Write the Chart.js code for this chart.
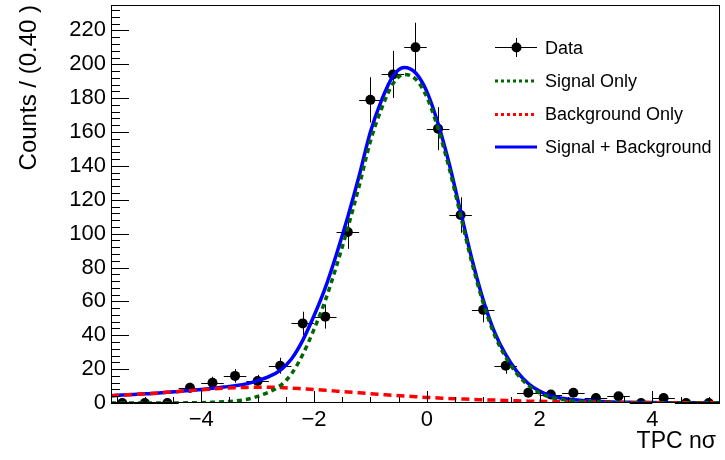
<!DOCTYPE html>
<html>
<head>
<meta charset="utf-8">
<script src="https://cdn.jsdelivr.net/npm/chart.js@4.4.1/dist/chart.umd.min.js"></script>
<style>
  html, body { margin: 0; padding: 0; background: #fff; }
  #wrap { width: 725px; height: 460px; }
</style>
</head>
<body>
<div id="wrap"><canvas id="fitChart" width="725" height="460"></canvas></div>
<script>
// histogram bins (width 0.40)
const binCenters = [-5.4, -5.0, -4.6, -4.2, -3.8, -3.4, -3.0, -2.6, -2.2, -1.8, -1.4, -1.0, -0.6, -0.2,
                    0.2, 0.6, 1.0, 1.4, 1.8, 2.2, 2.6, 3.0, 3.4, 3.8, 4.2, 4.6, 5.0];
const counts = [0, 0, 0, 9, 12, 16, 13, 22, 47, 51, 101, 179, 194, 210,
                162, 111, 55, 22, 6, 5, 6, 3, 4, 0, 3, 0, 0];
const countErrors = [0, 0, 0, 3.0, 3.5, 4.0, 3.6, 4.7, 6.9, 7.1, 10.0, 13.4, 13.9, 14.5,
                     12.7, 10.5, 7.4, 4.7, 2.4, 2.2, 2.4, 1.7, 2.0, 0, 1.7, 0, 0];
const binHalfWidth = 0.2;

// fit curves sampled along x
const curveX = [-5.6, -5.4, -5.2, -5.0, -4.8, -4.6, -4.4, -4.2, -4.0, -3.8, -3.6, -3.4, -3.2, -3.0,
                -2.8, -2.6, -2.4, -2.2, -2.0, -1.8, -1.6, -1.4, -1.2, -1.0, -0.8, -0.6, -0.4, -0.2,
                0.0, 0.2, 0.4, 0.6, 0.8, 1.0, 1.2, 1.4, 1.6, 1.8, 2.0, 2.2, 2.4, 2.6, 2.8, 3.0,
                3.2, 3.4, 3.6, 3.8, 4.0, 4.2, 4.4, 4.6, 4.8, 5.0, 5.2];
const signalOnly = [0, 0, 0, 0, 0, 0, 0.05, 0.1, 0.2, 0.4, 0.7, 1.2, 2.1, 3.9,
                    6.5, 10.2, 17.2, 28.6, 43.5, 60.5, 81, 103.5, 128, 154.5, 174, 188.5, 194, 191.3,
                    180.7, 162, 138.3, 110.6, 82.9, 59.1, 40.3, 27.0, 17.2, 10.4, 6.0, 3.3, 2.0, 1.2, 0.8, 0.5,
                    0.3, 0.15, 0.1, 0.05, 0, 0, 0, 0, 0, 0, 0];
const backgroundOnly = [4.3, 4.7, 5.0, 5.4, 5.8, 6.3, 6.8, 7.3, 7.8, 8.3, 8.7, 9.0, 9.2, 9.3,
                        9.3, 9.1, 8.8, 8.4, 8.0, 7.5, 7.0, 6.5, 6.0, 5.5, 5.0, 4.5, 4.1, 3.7,
                        3.3, 3.0, 2.7, 2.4, 2.1, 1.9, 1.7, 1.5, 1.3, 1.1, 1.0, 0.9, 0.8, 0.7, 0.6, 0.5,
                        0.4, 0.35, 0.3, 0.25, 0.2, 0.2, 0.15, 0.1, 0.1, 0.1, 0.1];
const signalPlusBackground = [4.3, 4.7, 5.0, 5.4, 5.8, 6.3, 6.85, 7.4, 8.0, 8.7, 9.4, 10.2, 11.3, 13.2,
                              15.6, 19.3, 26.0, 37.0, 51.5, 68, 88, 110, 134, 160, 179, 193, 198.1, 195,
                              184, 165, 141, 113, 85, 61, 42, 28.5, 18.5, 11.5, 7.0, 4.2, 2.8, 1.9, 1.4, 1.0,
                              0.7, 0.5, 0.4, 0.3, 0.25, 0.2, 0.15, 0.1, 0.1, 0.1, 0.1];

const xTickValues = [-4, -2, 0, 2, 4];
const yTickValues = [0, 20, 40, 60, 80, 100, 120, 140, 160, 180, 200, 220];

const FONT = "'Liberation Sans', Arial, Helvetica, sans-serif";
const GREEN = '#006600';

function toPoints(xs, ys) {
    return xs.map(function (x, i) { return { x: x, y: ys[i] }; });
}

// no extra room for overhanging tick labels, the frame is fixed
function fixScale(s) {
    s.paddingTop = 0;
    s.paddingBottom = 0;
    s.paddingLeft = 0;
    s.paddingRight = 0;
}

// ROOT-like frame, inner ticks, error bars, titles and legend
const rootStyle = {
    id: 'rootStyle',
    beforeDatasetsDraw: function (chart) {
        const c = chart.ctx, xs = chart.scales.x, ys = chart.scales.y;
        c.save();
        c.strokeStyle = '#000';
        c.lineWidth = 1;
        binCenters.forEach(function (bc, i) {
            const px = Math.round(xs.getPixelForValue(bc)) + 0.5;
            const py = Math.round(ys.getPixelForValue(counts[i])) + 0.5;
            c.beginPath();
            c.moveTo(xs.getPixelForValue(bc - binHalfWidth), py);
            c.lineTo(xs.getPixelForValue(bc + binHalfWidth), py);
            if (countErrors[i] > 0) {
                c.moveTo(px, ys.getPixelForValue(counts[i] - countErrors[i]));
                c.lineTo(px, ys.getPixelForValue(counts[i] + countErrors[i]));
            }
            c.stroke();
        });
        c.restore();
    },
    afterDraw: function (chart) {
        const c = chart.ctx, a = chart.chartArea;
        const xs = chart.scales.x, ys = chart.scales.y;
        c.save();
        c.strokeStyle = '#000';
        c.lineWidth = 1;
        c.strokeRect(a.left + 0.5, a.top + 0.5, a.right - a.left - 1, a.bottom - a.top - 1);

        // y ticks (inside the frame)
        c.beginPath();
        for (let v = 0; v <= ys.max; v += 4) {
            const py = Math.round(ys.getPixelForValue(v)) + 0.5;
            const len = (v % 20 === 0) ? 18 : 9;
            c.moveTo(a.left, py);
            c.lineTo(a.left + len, py);
        }
        // x ticks
        for (let v = -5.5; v <= xs.max; v += 0.5) {
            const px = Math.round(xs.getPixelForValue(v)) + 0.5;
            const len = (Math.abs(v % 2) < 1e-6) ? 12 : 6;
            c.moveTo(px, a.bottom);
            c.lineTo(px, a.bottom - len);
        }
        c.stroke();

        // axis titles
        c.fillStyle = '#000';
        c.textAlign = 'right';
        c.textBaseline = 'middle';
        c.font = '23px ' + FONT;
        c.fillText('TPC n\u03c3', 716, 442);
        c.save();
        c.font = '24px ' + FONT;
        c.translate(29, 5);
        c.rotate(-Math.PI / 2);
        c.fillText('Counts / (0.40 )', 0, 0);
        c.restore();

        // legend
        const lx0 = 495, lx1 = 537, tx = 545;
        c.font = '18px ' + FONT;
        c.textAlign = 'left';
        c.textBaseline = 'middle';

        c.beginPath();
        c.moveTo(lx0, 47.5); c.lineTo(lx1, 47.5);
        c.moveTo(516.5, 38); c.lineTo(516.5, 57);
        c.stroke();
        c.beginPath();
        c.arc(516.5, 47.5, 5, 0, Math.PI * 2);
        c.fill();
        c.fillText('Data', tx, 49);

        const entries = [
            { label: 'Signal Only', color: GREEN, dash: [3, 3], y: 81 },
            { label: 'Background Only', color: '#ff0000', dash: [3, 3], y: 114.5 },
            { label: 'Signal + Background', color: '#0000ff', dash: [], y: 147 }
        ];
        entries.forEach(function (e) {
            c.save();
            c.strokeStyle = e.color;
            c.lineWidth = 3;
            c.setLineDash(e.dash);
            c.beginPath();
            c.moveTo(lx0, e.y); c.lineTo(lx1, e.y);
            c.stroke();
            c.restore();
            c.fillText(e.label, tx, e.y + 1);
        });
        c.restore();
    }
};

const ctx = document.getElementById('fitChart');
new Chart(ctx, {
    type: 'scatter',
    data: {
        datasets: [
            {
                label: 'Data',
                data: toPoints(binCenters, counts),
                showLine: false,
                pointRadius: 5,
                pointBackgroundColor: '#000',
                pointBorderColor: '#000',
                pointBorderWidth: 0,
                order: 4
            },
            {
                label: 'Signal + Background',
                data: toPoints(curveX, signalPlusBackground),
                showLine: true,
                borderColor: '#0000ff',
                borderWidth: 3.5,
                pointRadius: 0,
                cubicInterpolationMode: 'monotone',
                order: 3
            },
            {
                label: 'Background Only',
                data: toPoints(curveX, backgroundOnly),
                showLine: true,
                borderColor: '#ff0000',
                borderWidth: 3.5,
                borderDash: [8, 5],
                pointRadius: 0,
                cubicInterpolationMode: 'monotone',
                order: 2
            },
            {
                label: 'Signal Only',
                data: toPoints(curveX, signalOnly),
                showLine: true,
                borderColor: GREEN,
                borderWidth: 3.5,
                borderDash: [5, 4],
                pointRadius: 0,
                cubicInterpolationMode: 'monotone',
                order: 1
            }
        ]
    },
    options: {
        responsive: false,
        animation: false,
        layout: { padding: { top: 4, right: 3, left: 0, bottom: 0 } },
        plugins: {
            legend: { display: false },
            tooltip: { enabled: false }
        },
        scales: {
            x: {
                type: 'linear',
                min: -5.6,
                max: 5.2,
                grid: { display: false, drawTicks: false },
                border: { display: false },
                afterBuildTicks: function (s) { s.ticks = xTickValues.map(function (v) { return { value: v }; }); },
                afterFit: function (s) { s.height = 57; fixScale(s); },
                ticks: {
                    color: '#000',
                    padding: 4,
                    maxRotation: 0,
                    font: { family: FONT, size: 22 },
                    callback: function (v) { return v < 0 ? '\u2212' + Math.abs(v) : String(v); }
                }
            },
            y: {
                min: 0,
                max: 235,
                grid: { display: false, drawTicks: false },
                border: { display: false },
                afterBuildTicks: function (s) { s.ticks = yTickValues.map(function (v) { return { value: v }; }); },
                afterFit: function (s) { s.width = 111; fixScale(s); },
                ticks: {
                    color: '#000',
                    padding: 5,
                    font: { family: FONT, size: 22 }
                }
            }
        }
    },
    plugins: [rootStyle]
});
</script>
</body>
</html>
